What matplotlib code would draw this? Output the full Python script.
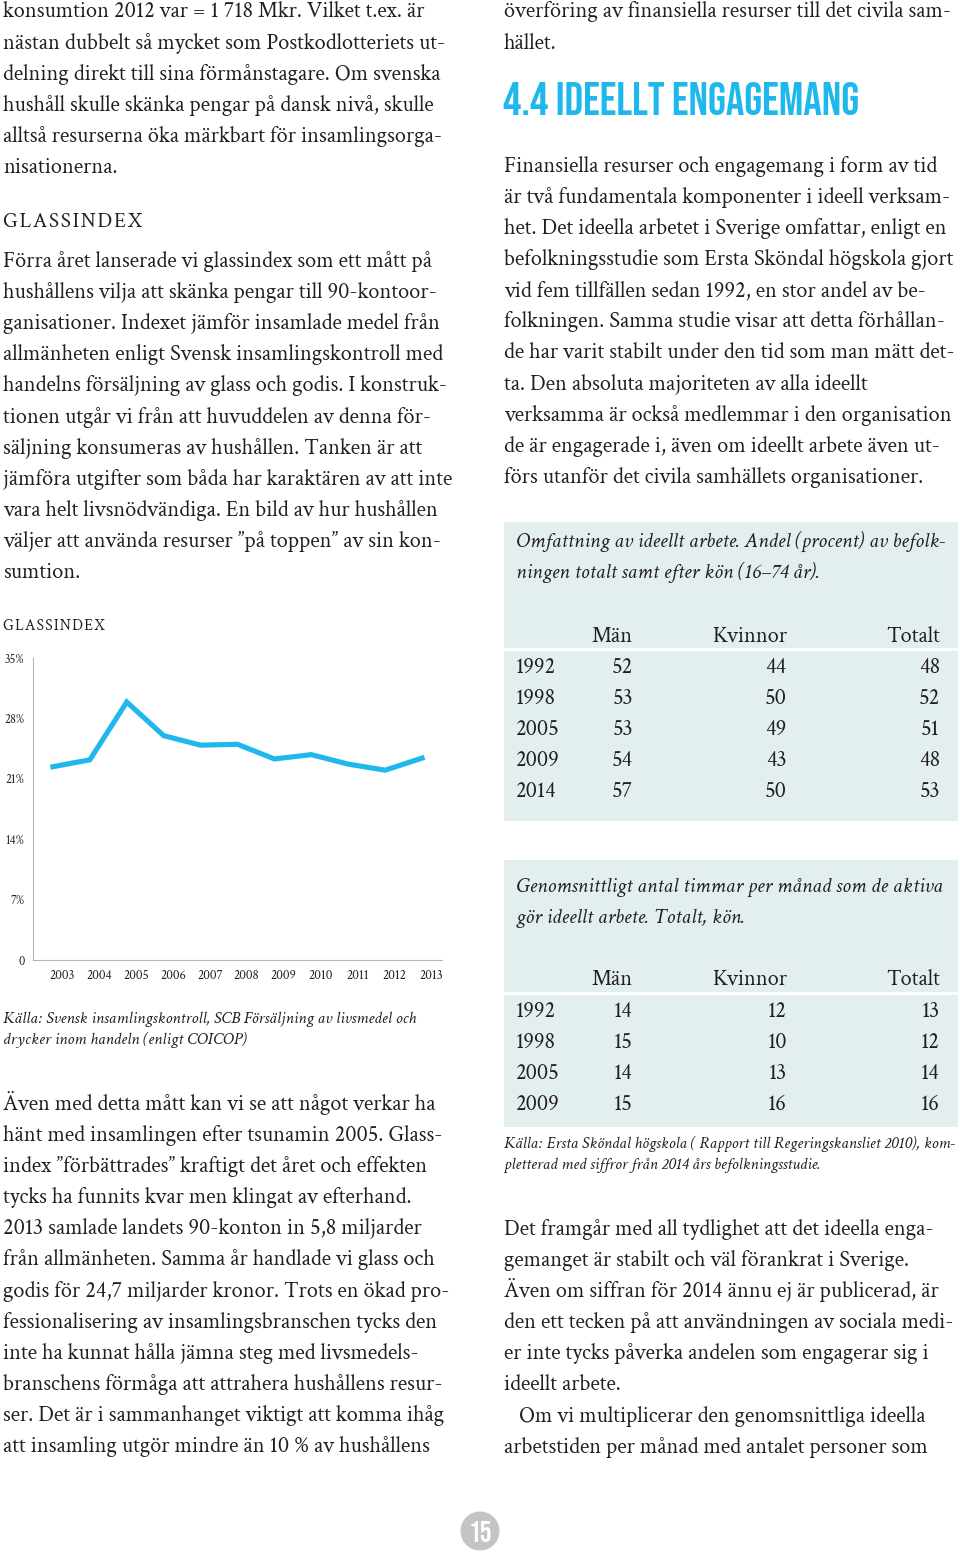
import matplotlib.pyplot as plt
from matplotlib.patches import Rectangle, Circle

# Glassindex, procent
years = [2003, 2004, 2005, 2006, 2007, 2008, 2009, 2010, 2011, 2012, 2013]
glassindex = [22.4, 23.2, 29.9, 26.0, 24.9, 25.0, 23.3, 23.8, 22.7, 22.0, 23.4]
y_ticks = [0, 7, 14, 21, 28, 35]
y_ticklabels = ['0', '7%', '14%', '21%', '28%', '35%']

# Tabell 1: andel (procent)
t1_years = ['1992', '1998', '2005', '2009', '2014']
t1_man = [52, 53, 53, 54, 57]
t1_kvinnor = [44, 50, 49, 43, 50]
t1_totalt = [48, 52, 51, 48, 53]

# Tabell 2: timmar per månad
t2_years = ['1992', '1998', '2005', '2009']
t2_man = [14, 15, 14, 15]
t2_kvinnor = [12, 10, 13, 16]
t2_totalt = [13, 12, 14, 16]

left1 = ['konsumtion 2012 var = 1 718 Mkr. Vilket t.ex. är',
         'nästan dubbelt så mycket som Postkodlotteriets ut-',
         'delning direkt till sina förmånstagare. Om svenska',
         'hushåll skulle skänka pengar på dansk nivå, skulle',
         'alltså resurserna öka märkbart för insamlingsorga-',
         'nisationerna.']
left2 = ['Förra året lanserade vi glassindex som ett mått på',
         'hushållens vilja att skänka pengar till 90-kontoor-',
         'ganisationer. Indexet jämför insamlade medel från',
         'allmänheten enligt Svensk insamlingskontroll med',
         'handelns försäljning av glass och godis. I konstruk-',
         'tionen utgår vi från att huvuddelen av denna för-',
         'säljning konsumeras av hushållen. Tanken är att',
         'jämföra utgifter som båda har karaktären av att inte',
         'vara helt livsnödvändiga. En bild av hur hushållen',
         'väljer att använda resurser ”på toppen” av sin kon-',
         'sumtion.']
left3 = ['Även med detta mått kan vi se att något verkar ha',
         'hänt med insamlingen efter tsunamin 2005. Glass-',
         'index ”förbättrades” kraftigt det året och effekten',
         'tycks ha funnits kvar men klingat av efterhand.',
         '2013 samlade landets 90-konton in 5,8 miljarder',
         'från allmänheten. Samma år handlade vi glass och',
         'godis för 24,7 miljarder kronor. Trots en ökad pro-',
         'fessionalisering av insamlingsbranschen tycks den',
         'inte ha kunnat hålla jämna steg med livsmedels-',
         'branschens förmåga att attrahera hushållens resur-',
         'ser. Det är i sammanhanget viktigt att komma ihåg',
         'att insamling utgör mindre än 10 % av hushållens']
right1 = ['överföring av finansiella resurser till det civila sam-',
          'hället.']
right2 = ['Finansiella resurser och engagemang i form av tid',
          'är två fundamentala komponenter i ideell verksam-',
          'het. Det ideella arbetet i Sverige omfattar, enligt en',
          'befolkningsstudie som Ersta Sköndal högskola gjort',
          'vid fem tillfällen sedan 1992, en stor andel av be-',
          'folkningen. Samma studie visar att detta förhållan-',
          'de har varit stabilt under den tid som man mätt det-',
          'ta. Den absoluta majoriteten av alla ideellt',
          'verksamma är också medlemmar i den organisation',
          'de är engagerade i, även om ideellt arbete även ut-',
          'förs utanför det civila samhällets organisationer.']
right3 = ['Det framgår med all tydlighet att det ideella enga-',
          'gemanget är stabilt och väl förankrat i Sverige.',
          'Även om siffran för 2014 ännu ej är publicerad, är',
          'den ett tecken på att användningen av sociala medi-',
          'er inte tycks påverka andelen som engagerar sig i',
          'ideellt arbete.',
          '   Om vi multiplicerar den genomsnittliga ideella',
          'arbetstiden per månad med antalet personer som']

ink = '#231f20'
blue = '#1fb8ec'
tabbg = '#e3efee'
serif = ['Crimson Text', 'Liberation Serif', 'DejaVu Serif']
display = ['Bebas Neue', 'DejaVu Sans']
body = 16.1
lh = 31.1

fig = plt.figure(figsize=(9.6, 15.55), dpi=100)
page = fig.add_axes([0, 0, 1, 1])
page.set_xlim(0, 960)
page.set_ylim(1555, 0)
page.axis('off')


def block(lines, x, y0, size=body, style='normal', step=lh):
    for i, s in enumerate(lines):
        page.text(x, y0 + i * step, s, fontsize=size, family=serif,
                  style=style, color=ink, va='baseline')


# vänster spalt
block(left1, 3, 17.5)
page.text(3, 227, '\u200a'.join('GLASSINDEX'), fontsize=15.2, family=serif,
          color=ink, va='baseline')
block(left2, 3, 267)
page.text(3, 630, '\u200a'.join('GLASSINDEX'), fontsize=11.2, family=serif,
          color=ink, va='baseline')
block(['Källa: Svensk insamlingskontroll, SCB Försäljning av livsmedel och',
       'drycker inom handeln (enligt COICOP)'], 3, 1023, size=12.3,
      style='italic', step=21)
block(left3, 3, 1110)

# höger spalt
block(right1, 504, 17.5)
page.text(503, 115, '4.4 IDEELLT ENGAGEMANG', fontsize=33, family=display,
          color=blue, va='baseline')
block(right2, 504, 172)


def table(top, bottom, line_y, cap, cap_y, head_y, row_y, yrs, a, b, c):
    page.add_patch(Rectangle((504, top), 454, bottom - top, color=tabbg, lw=0))
    page.plot([504, 958], [line_y, line_y], color='white', lw=2)
    block(cap, 516, cap_y, size=15.6, style='italic', step=31)
    for x, h in zip([633, 787, 940], ['Män', 'Kvinnor', 'Totalt']):
        page.text(x, head_y, h, fontsize=body, family=serif, color=ink,
                  ha='right', va='baseline')
    for i, yr in enumerate(yrs):
        y = row_y + i * lh
        page.text(516, y, yr, fontsize=body, family=serif, color=ink, va='baseline')
        for x, v in zip([633, 787, 940], [a[i], b[i], c[i]]):
            page.text(x, y, str(v), fontsize=body, family=serif, color=ink,
                      ha='right', va='baseline')


table(522, 821, 649,
      ['Omfattning av ideellt arbete. Andel (procent) av befolk-',
       'ningen totalt samt efter kön (16–74 år).'],
      547, 642, 673, t1_years, t1_man, t1_kvinnor, t1_totalt)
table(860, 1127, 993,
      ['Genomsnittligt antal timmar per månad som de aktiva',
       'gör ideellt arbete. Totalt, kön.'],
      892, 985, 1017, t2_years, t2_man, t2_kvinnor, t2_totalt)
block(['Källa: Ersta Sköndal högskola ( Rapport till Regeringskansliet 2010), kom-',
       'pletterad med siffror från 2014 års befolkningsstudie.'],
      504, 1148, size=12.2, style='italic', step=20.5)
block(right3, 504, 1235)

# sidnummer
page.add_patch(Circle((480, 1531), 19.5, color='#c4c4c4', lw=0))
page.text(480.5, 1532, '15', fontsize=21, color='white', family=display,
          ha='center', va='center')

# diagram
W, H = 960, 1555
ax = fig.add_axes([33 / W, (H - 960) / H, 409 / W, 302 / H])
ax.plot(years, glassindex, color=blue, lw=3.7, solid_joinstyle='miter')
ax.set_xlim(2002.46, 2013.54)
ax.set_ylim(0, 35)
ax.set_yticks(y_ticks)
ax.set_yticklabels(y_ticklabels, family=serif, fontsize=9, color=ink)
ax.set_xticks([y + 0.25 for y in years])
ax.set_xticklabels([str(y) for y in years], family=serif, fontsize=9.5, color=ink)
ax.tick_params(length=0, pad=6)
ax.tick_params(axis='x', pad=7)
for s in ['top', 'right']:
    ax.spines[s].set_visible(False)
for s in ['left', 'bottom']:
    ax.spines[s].set_color('#b5b5b5')
    ax.spines[s].set_linewidth(0.8)
ax.patch.set_alpha(0)

fig.savefig('out.png', dpi=100)
